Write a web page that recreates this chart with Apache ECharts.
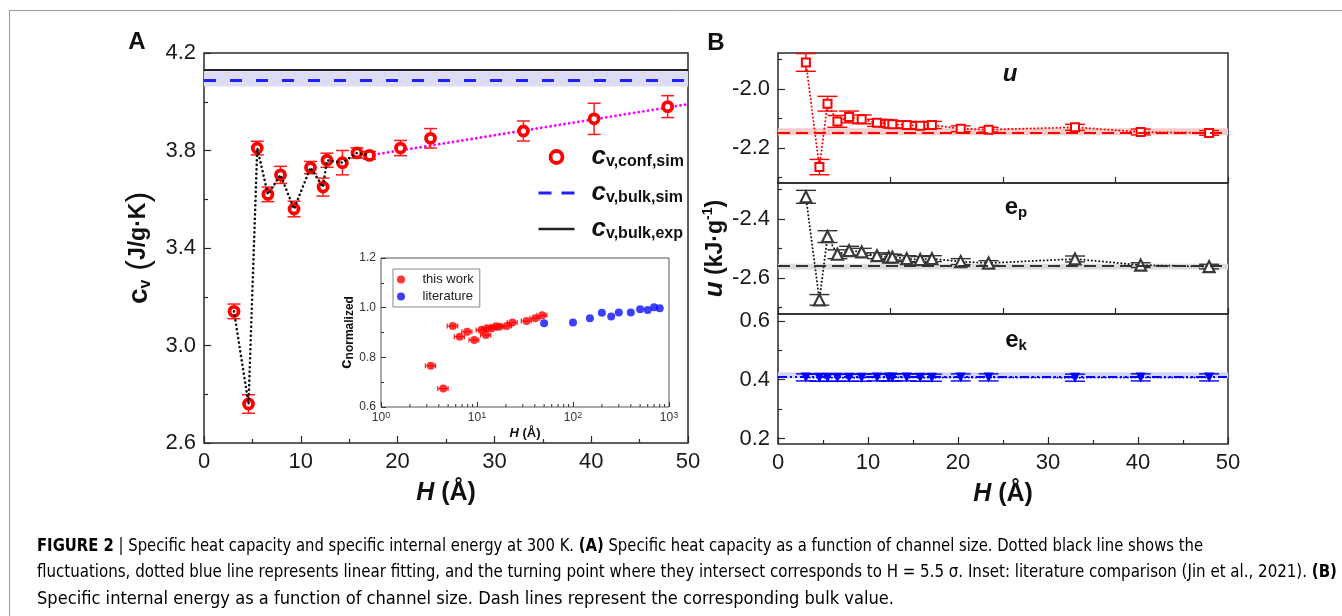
<!DOCTYPE html>
<html><head><meta charset="utf-8">
<script src="https://cdn.jsdelivr.net/npm/echarts@6/dist/echarts.min.js"></script>
<style>html,body{margin:0;padding:0;background:#fff}#c{width:1342px;height:616px}</style>
</head><body><div id="c"></div>
<script>
// ---------------- data ----------------
const H = [3.1, 4.6, 5.5, 6.6, 7.9, 9.3, 11.0, 12.3, 12.7, 14.3, 15.8, 17.1, 20.3, 23.4, 33.0, 40.3, 47.9];
const cvConf = [3.14, 2.76, 3.81, 3.62, 3.70, 3.56, 3.73, 3.65, 3.76, 3.75, 3.79, 3.78, 3.81, 3.85, 3.88, 3.93, 3.98];
const cvErr = [0.03, 0.038, 0.028, 0.03, 0.035, 0.032, 0.025, 0.037, 0.029, 0.05, 0.021, 0.016, 0.031, 0.04, 0.041, 0.064, 0.045];
const flucCount = 12;               // points joined by the dotted black line
const fitH = [17.1, 50];
const fitCv = [3.78, 3.99];
const cvBulkSim = 4.095;
const cvBulkSimBand = [4.063, 4.125];
const cvBulkExp = 4.13;

const inH = [3.3, 4.45, 5.6, 6.6, 7.9, 9.35, 11.1, 12.4, 12.7, 14.3, 15.8, 17.1, 20.5, 23.4, 32.8, 40.4, 47.8];
const inC = [0.766, 0.674, 0.926, 0.883, 0.903, 0.870, 0.910, 0.890, 0.917, 0.917, 0.925, 0.923, 0.926, 0.940, 0.946, 0.957, 0.969];
const inErr = [0.4, 0.55, 0.7, 0.8, 0.95, 1.1, 1.3, 1.5, 1.5, 1.7, 1.9, 2.0, 2.4, 2.8, 3.9, 4.8, 5.7];
const litH = [50, 100, 150, 200, 250, 300, 400, 500, 600, 700, 800];
const litC = [0.937, 0.940, 0.957, 0.980, 0.964, 0.981, 0.981, 0.994, 0.991, 1.002, 0.998];

const u = [-1.91, -2.265, -2.05, -2.11, -2.095, -2.103, -2.115, -2.118, -2.12, -2.122, -2.125, -2.122, -2.135, -2.138, -2.13, -2.146, -2.149];
const uErr = [0.03, 0.026, 0.025, 0.02, 0.02, 0.015, 0.012, 0.012, 0.012, 0.012, 0.012, 0.012, 0.01, 0.008, 0.01, 0.01, 0.008];
const uBulk = -2.145, uBand = [-2.157, -2.133];
const ep = [-2.325, -2.675, -2.46, -2.52, -2.508, -2.512, -2.525, -2.53, -2.53, -2.535, -2.538, -2.535, -2.545, -2.55, -2.536, -2.557, -2.562];
const epErr = [0.022, 0.018, 0.02, 0.015, 0.015, 0.012, 0.01, 0.01, 0.01, 0.01, 0.01, 0.01, 0.01, 0.008, 0.01, 0.008, 0.008];
const epBulk = -2.562, epBand = [-2.572, -2.552];
const ek = [0.408, 0.407, 0.407, 0.407, 0.407, 0.407, 0.408, 0.408, 0.408, 0.408, 0.407, 0.407, 0.408, 0.408, 0.407, 0.408, 0.408];
const ekErr = [0.012, 0.012, 0.012, 0.012, 0.012, 0.012, 0.012, 0.012, 0.012, 0.012, 0.012, 0.012, 0.012, 0.012, 0.012, 0.012, 0.012];
const ekBulk = 0.415, ekBand = [0.405, 0.425];

// ticks / labels
const aYMajor = [2.6, 3.0, 3.4, 3.8, 4.2], aYMinor = [2.8, 3.2, 3.6, 4.0];
const uMajor = [-2.2, -2.0], uMinor = [-2.3, -2.1, -1.9];
const epMajor = [-2.6, -2.4], epMinor = [-2.7, -2.5, -2.3];
const ekMajor = [0.2, 0.4, 0.6], ekMinor = [0.3, 0.5];
const inMinorX = [2,3,4,5,6,7,8,9,20,30,40,50,60,70,80,90,200,300,400,500,600,700,800,900];

const CAPTION = [
  [['b','FIGURE 2'],['bar',' | '],['n','Specific heat capacity and specific internal energy at 300 K. '],['b','(A)'],['n',' Specific heat capacity as a function of channel size. Dotted black line shows the']],
  [['n','fluctuations, dotted blue line represents linear fitting, and the turning point where they intersect corresponds to H = 5.5 σ. Inset: literature comparison '],['g','(Jin et al., 2021)'],['n','. '],['b','(B)']],
  [['n','Specific internal energy as a function of channel size. Dash lines represent the corresponding bulk value.']]
];

// ---------------- helpers ----------------
const FF = "'Liberation Sans', Arial, Helvetica, sans-serif";
const CF = "'Liberation Sans Narrow', 'Arial Narrow', 'DejaVu Sans Condensed', 'Liberation Sans', sans-serif";
const AX = '#2a2a2a';
const TXT = '#111';

function vErr(cap, color, lw) {
  return function (params, api) {
    const x = api.value(0), y = api.value(1), e = api.value(2);
    const a = api.coord([x, y - e]), b = api.coord([x, y + e]);
    const st = {stroke: color, lineWidth: lw, fill: null};
    return {type: 'group', children: [
      {type: 'line', shape: {x1: a[0], y1: a[1], x2: b[0], y2: b[1]}, style: st},
      {type: 'line', shape: {x1: a[0] - cap, y1: a[1], x2: a[0] + cap, y2: a[1]}, style: st},
      {type: 'line', shape: {x1: b[0] - cap, y1: b[1], x2: b[0] + cap, y2: b[1]}, style: st}
    ]};
  };
}
function hErr(cap, color, lw) {
  return function (params, api) {
    const x = api.value(0), y = api.value(1), e = api.value(2);
    const a = api.coord([x - e, y]), b = api.coord([x + e, y]);
    const st = {stroke: color, lineWidth: lw, fill: null};
    return {type: 'group', children: [
      {type: 'line', shape: {x1: a[0], y1: a[1], x2: b[0], y2: b[1]}, style: st},
      {type: 'line', shape: {x1: a[0], y1: a[1] - cap, x2: a[0], y2: a[1] + cap}, style: st},
      {type: 'line', shape: {x1: b[0], y1: b[1] - cap, x2: b[0], y2: b[1] + cap}, style: st}
    ]};
  };
}
const zip3 = (xs, ys, es) => xs.map((x, i) => [x, ys[i], es[i]]);
const zip2 = (xs, ys) => xs.map((x, i) => [x, ys[i]]);
const f1 = v => Number(v).toFixed(1);

const labelStyle = {fontSize: 22, color: '#1a1a1a', fontFamily: FF, margin: 8};
const gridBox = {show: true, borderColor: AX, borderWidth: 1.5, backgroundColor: 'transparent'};

function ovlX(gi, min, max) {
  return {gridIndex: gi, type: 'value', min, max, show: true, axisLine: {show: false}, axisTick: {show: false}, axisLabel: {show: false}, splitLine: {show: false}};
}
function ovlY(gi, min, max, vals) {
  return {gridIndex: gi, type: 'value', min, max, axisLine: {show: false}, axisLabel: {show: false}, splitLine: {show: false},
    axisTick: {show: true, inside: true, length: 4, customValues: vals, lineStyle: {color: AX, width: 1.2}}};
}
function majY(gi, min, max, vals, extra) {
  return Object.assign({gridIndex: gi, type: 'value', min, max, axisLine: {show: false}, splitLine: {show: false},
    axisTick: {show: true, inside: true, length: 7, customValues: vals, lineStyle: {color: AX, width: 1.2}},
    axisLabel: Object.assign({customValues: vals, formatter: f1}, labelStyle)}, extra || {});
}

const uRange = [-2.319, -1.878], epRange = [-2.723, -2.278], ekRange = [0.182, 0.623];

const grids = [
  Object.assign({left: 204, top: 53, width: 484, height: 390}, gridBox),          // 0 A
  {left: 204, top: 53, width: 484, height: 390, show: false},                     // 1 A overlay
  {left: 381, top: 258, width: 288, height: 149, show: true, backgroundColor: '#fff', borderColor: '#555', borderWidth: 1}, // 2 inset
  Object.assign({left: 778, top: 53, width: 450, height: 130}, gridBox),          // 3 u
  {left: 778, top: 53, width: 450, height: 130, show: false},                     // 4
  Object.assign({left: 778, top: 183, width: 450, height: 131}, gridBox),         // 5 ep
  {left: 778, top: 183, width: 450, height: 131, show: false},                    // 6
  Object.assign({left: 778, top: 314, width: 450, height: 130}, gridBox),         // 7 ek
  {left: 778, top: 314, width: 450, height: 130, show: false}                     // 8
];

const xName = {
  name: '{i|H}{b| (Å)}', nameLocation: 'middle', nameGap: 38,
  nameTextStyle: {color: TXT, rich: {i: {fontSize: 25, fontWeight: 'bold', fontStyle: 'italic', fontFamily: FF, color: TXT},
    b: {fontSize: 25, fontWeight: 'bold', fontFamily: FF, color: TXT}}}
};

const xAxes = [
  Object.assign({gridIndex: 0, type: 'value', min: 0, max: 50, interval: 10, axisLine: {show: false, onZero: false}, splitLine: {show: false},
    axisTick: {inside: true, length: 7, lineStyle: {color: AX, width: 1.2}},
    minorTick: {show: true, splitNumber: 2, length: 4, lineStyle: {color: AX, width: 1.2}},
    axisLabel: Object.assign({}, labelStyle)}, xName),
  ovlX(1, 0, 50),
  {gridIndex: 2, type: 'log', logBase: 10, min: 1, max: 1000, axisLine: {show: false, onZero: false}, splitLine: {show: false},
    axisTick: {inside: true, length: 5, lineStyle: {color: '#333'}},
    axisLabel: {margin: 4, formatter: v => '{b|10}{s|' + Math.round(Math.log10(v)) + '}',
      rich: {b: {fontSize: 12, color: '#333', fontFamily: FF, lineHeight: 14}, s: {fontSize: 9, color: '#333', fontFamily: FF, lineHeight: 9, verticalAlign: 'top'}}},
    name: '{i|H}{b| (Å)}', nameLocation: 'middle', nameGap: 20,
    nameTextStyle: {color: TXT, rich: {i: {fontSize: 13, fontWeight: 'bold', fontStyle: 'italic', fontFamily: FF, color: TXT},
      b: {fontSize: 13, fontWeight: 'bold', fontFamily: FF, color: TXT}}}},
  {gridIndex: 3, type: 'value', min: 0, max: 50, interval: 12.5, axisLine: {show: false, onZero: false}, splitLine: {show: false},
    axisTick: {inside: true, length: 6, lineStyle: {color: AX, width: 1.2}}, axisLabel: {show: false}},
  ovlX(4, 0, 50),
  {gridIndex: 5, type: 'value', min: 0, max: 50, interval: 12.5, axisLine: {show: false, onZero: false}, splitLine: {show: false},
    axisTick: {inside: true, length: 6, lineStyle: {color: AX, width: 1.2}}, axisLabel: {show: false}},
  ovlX(6, 0, 50),
  Object.assign({gridIndex: 7, type: 'value', min: 0, max: 50, interval: 10, axisLine: {show: false, onZero: false}, splitLine: {show: false},
    axisTick: {inside: true, length: 7, lineStyle: {color: AX, width: 1.2}},
    minorTick: {show: true, splitNumber: 2, length: 4, lineStyle: {color: AX, width: 1.2}},
    axisLabel: Object.assign({}, labelStyle)}, xName),
  ovlX(8, 0, 50)
];

const yAxes = [
  majY(0, 2.6, 4.2, aYMajor, {
    name: '{c|c}{v|v}{p| (}{t|J/g·K}{p|)}', nameLocation: 'middle', nameGap: 50, nameRotate: 90,
    nameTextStyle: {color: TXT, rich: {
      c: {fontSize: 28, fontWeight: 'bold', fontFamily: FF, lineHeight: 30, color: TXT},
      v: {fontSize: 16, fontWeight: 'bold', fontFamily: FF, lineHeight: 16, verticalAlign: 'bottom', color: TXT},
      p: {fontSize: 32, fontFamily: FF, lineHeight: 30, color: TXT},
      t: {fontSize: 23, fontWeight: 'bold', fontFamily: FF, lineHeight: 30, color: TXT}}}
  }),
  ovlY(1, 2.6, 4.2, aYMinor),
  {gridIndex: 2, type: 'value', min: 0.6, max: 1.2, interval: 0.2, axisLine: {show: false}, splitLine: {show: false},
    axisTick: {inside: true, length: 5, lineStyle: {color: '#333'}},
    minorTick: {show: true, splitNumber: 2, length: 3, lineStyle: {color: '#333'}},
    axisLabel: {fontSize: 12, color: '#333', fontFamily: FF, margin: 5, formatter: f1},
    name: '{c|c}{s|normalized}', nameLocation: 'middle', nameGap: 24, nameRotate: 90,
    nameTextStyle: {color: TXT, rich: {c: {fontSize: 17, fontWeight: 'bold', fontFamily: FF, lineHeight: 18, color: TXT},
      s: {fontSize: 12, fontWeight: 'bold', fontFamily: FF, lineHeight: 12, verticalAlign: 'bottom', color: TXT}}}},
  majY(3, uRange[0], uRange[1], uMajor),
  ovlY(4, uRange[0], uRange[1], uMinor),
  majY(5, epRange[0], epRange[1], epMajor, {
    name: '{u|u}{t| (kJ·g}{s|-1}{t|)}', nameLocation: 'middle', nameGap: 48, nameRotate: 90,
    nameTextStyle: {color: TXT, rich: {
      u: {fontSize: 26, fontWeight: 'bold', fontStyle: 'italic', fontFamily: FF, lineHeight: 28, color: TXT},
      t: {fontSize: 23, fontWeight: 'bold', fontFamily: FF, lineHeight: 28, color: TXT},
      s: {fontSize: 14, fontWeight: 'bold', fontFamily: FF, lineHeight: 14, verticalAlign: 'top', color: TXT}}}
  }),
  ovlY(6, epRange[0], epRange[1], epMinor),
  majY(7, ekRange[0], ekRange[1], ekMajor),
  ovlY(8, ekRange[0], ekRange[1], ekMinor)
];

const dots = (color, w, gap) => ({color, width: w, type: [0.1, gap], cap: 'round'});

const series = [
  // ---- Panel A ----
  {name: 'cv,bulk,sim', type: 'line', xAxisIndex: 0, yAxisIndex: 0, data: [], symbol: 'none', z: 1,
    itemStyle: {color: '#1f1fff'}, lineStyle: {color: '#1f1fff', width: 3, type: [13, 10]},
    markArea: {silent: true, itemStyle: {color: '#dcdcf6'}, data: [[{yAxis: cvBulkSimBand[0]}, {yAxis: cvBulkSimBand[1]}]]},
    markLine: {silent: true, symbol: 'none', label: {show: false}, animation: false,
      lineStyle: {color: '#1f1fff', width: 3, type: [12, 14]}, data: [{yAxis: cvBulkSim}]}},
  {name: 'cv,bulk,exp', type: 'line', xAxisIndex: 0, yAxisIndex: 0, data: [], symbol: 'none', z: 2,
    itemStyle: {color: '#222'}, lineStyle: {color: '#222', width: 2.5},
    markLine: {silent: true, symbol: 'none', label: {show: false}, animation: false,
      lineStyle: {color: '#222', width: 2.2, type: 'solid'}, data: [{yAxis: cvBulkExp}]}},
  {name: 'fit', type: 'line', xAxisIndex: 0, yAxisIndex: 0, data: zip2(fitH, fitCv), symbol: 'none', z: 3,
    lineStyle: dots('#ff00ff', 2.8, 4.6)},
  {name: 'errA', type: 'custom', xAxisIndex: 0, yAxisIndex: 0, data: zip3(H, cvConf, cvErr), encode: {x: 0, y: 1}, z: 4,
    renderItem: vErr(6.5, '#ff1a1a', 1.5)},
  {name: 'cv,conf,sim', type: 'scatter', xAxisIndex: 0, yAxisIndex: 0, data: zip2(H, cvConf), z: 5,
    symbol: 'circle', symbolSize: 9, itemStyle: {color: '#fff', borderColor: '#ff0000', borderWidth: 3.8, opacity: 1}},
  {name: 'fluc', type: 'line', xAxisIndex: 0, yAxisIndex: 0, data: zip2(H.slice(0, flucCount), cvConf.slice(0, flucCount)), symbol: 'none', z: 6,
    lineStyle: dots('#111', 2.6, 4.4)},
  // ---- Inset ----
  {name: 'minorLog', type: 'custom', xAxisIndex: 2, yAxisIndex: 2, data: inMinorX.map(v => [v, 0.6]), encode: {x: 0, y: 1}, z: 3, silent: true,
    renderItem: function (params, api) {
      const p = api.coord([api.value(0), api.value(1)]);
      return {type: 'line', shape: {x1: p[0], y1: p[1], x2: p[0], y2: p[1] - 3}, style: {stroke: '#333', lineWidth: 1}};
    }},
  {name: 'errIn', type: 'custom', xAxisIndex: 2, yAxisIndex: 2, data: zip3(inH, inC, inErr), encode: {x: 0, y: 1}, z: 4,
    renderItem: hErr(2.5, '#ff1a1a', 1.2)},
  {name: 'this work', type: 'scatter', xAxisIndex: 2, yAxisIndex: 2, data: zip2(inH, inC), symbol: 'circle', symbolSize: 8, z: 5,
    itemStyle: {color: '#ff0000'}},
  {name: 'literature', type: 'scatter', xAxisIndex: 2, yAxisIndex: 2, data: zip2(litH, litC), symbol: 'circle', symbolSize: 8, z: 5,
    itemStyle: {color: '#0a10ff'}},
  // ---- Panel B: u ----
  {name: 'uBulk', type: 'line', xAxisIndex: 3, yAxisIndex: 3, data: [], symbol: 'none', z: 1,
    markArea: {silent: true, itemStyle: {color: '#f9cccc'}, data: [[{yAxis: uBand[0]}, {yAxis: uBand[1]}]]},
    markLine: {silent: true, symbol: 'none', label: {show: false}, lineStyle: {color: '#ff0000', width: 2.2, type: [12, 6]}, data: [{yAxis: uBulk}]}},
  {name: 'uErr', type: 'custom', xAxisIndex: 3, yAxisIndex: 3, data: zip3(H, u, uErr), encode: {x: 0, y: 1}, z: 3,
    renderItem: vErr(10, '#ff0000', 1.4)},
  {name: 'u', type: 'line', xAxisIndex: 3, yAxisIndex: 3, data: zip2(H, u), z: 4,
    symbol: 'rect', symbolSize: 8, showSymbol: true, itemStyle: {color: '#fff', borderColor: '#ff0000', borderWidth: 2},
    lineStyle: dots('#ff0000', 2, 3.6)},
  // ---- Panel B: ep ----
  {name: 'epBulk', type: 'line', xAxisIndex: 5, yAxisIndex: 5, data: [], symbol: 'none', z: 1,
    markArea: {silent: true, itemStyle: {color: '#dcdcdc'}, data: [[{yAxis: epBand[0]}, {yAxis: epBand[1]}]]},
    markLine: {silent: true, symbol: 'none', label: {show: false}, lineStyle: {color: '#333', width: 2.2, type: [12, 6]}, data: [{yAxis: epBulk}]}},
  {name: 'epErr', type: 'custom', xAxisIndex: 5, yAxisIndex: 5, data: zip3(H, ep, epErr), encode: {x: 0, y: 1}, z: 3,
    renderItem: vErr(10, '#333', 1.4)},
  {name: 'ep', type: 'line', xAxisIndex: 5, yAxisIndex: 5, data: zip2(H, ep), z: 4,
    symbol: 'triangle', symbolSize: 11, showSymbol: true, itemStyle: {color: '#fff', borderColor: '#3a3a3a', borderWidth: 2.2},
    lineStyle: dots('#1a1a1a', 2, 3.6)},
  // ---- Panel B: ek ----
  {name: 'ekBulk', type: 'line', xAxisIndex: 7, yAxisIndex: 7, data: [], symbol: 'none', z: 1,
    markArea: {silent: true, itemStyle: {color: '#d4d4ff'}, data: [[{yAxis: ekBand[0]}, {yAxis: ekBand[1]}]]},
    markLine: {silent: true, symbol: 'none', label: {show: false}, lineStyle: {color: '#0000ff', width: 2.2, type: [9, 3, 2, 3, 2, 3]}, data: [{yAxis: ekBulk}]}},
  {name: 'ekErr', type: 'custom', xAxisIndex: 7, yAxisIndex: 7, data: zip3(H, ek, ekErr), encode: {x: 0, y: 1}, z: 3,
    renderItem: vErr(10, '#0000ff', 1.4)},
  {name: 'ek', type: 'line', xAxisIndex: 7, yAxisIndex: 7, data: zip2(H, ek), z: 4,
    symbol: 'triangle', symbolRotate: 180, symbolSize: 10, showSymbol: true, itemStyle: {color: '#0000ff'},
    lineStyle: dots('#0000ff', 2, 3.6)}
];

// ---------- caption (text fitted to the reference line widths) ----------
const capBase = {fontSize: 17, fontFamily: CF, color: '#333'};
const capRich = {
  n: Object.assign({}, capBase),
  b: Object.assign({}, capBase, {fontWeight: 'bold'}),
  g: Object.assign({}, capBase, {color: '#9a9a9a'}),
  bar: Object.assign({}, capBase, {color: '#777'})
};
const capTargets = [1166, 1300, 857];
const capY = [547, 573, 600];
const mctx = document.createElement('canvas').getContext('2d');
function segWidth(segs) {
  let w = 0;
  segs.forEach(([k, t]) => {
    const st = capRich[k];
    mctx.font = (st.fontWeight || 'normal') + ' ' + st.fontSize + 'px ' + st.fontFamily;
    w += mctx.measureText(t).width;
  });
  return w;
}
const captionGraphics = CAPTION.map((segs, i) => {
  const w = segWidth(segs);
  return {type: 'text', x: 37, y: capY[i], scaleX: capTargets[i] / w, silent: true,
    style: {text: segs.map(([k, t]) => '{' + k + '|' + t + '}').join(''), rich: capRich, verticalAlign: 'middle', align: 'left'}};
});

const panelLbl = (txt, x, y) => ({type: 'text', x, y, silent: true,
  style: {text: txt, fontSize: 24, fontWeight: 'bold', fontFamily: FF, fill: TXT, align: 'center', verticalAlign: 'middle'}});
const subLbl = (main, sub, italic, x, y) => ({type: 'text', x, y, silent: true,
  style: {text: '{m|' + main + '}' + (sub ? '{s|' + sub + '}' : ''), align: 'center', verticalAlign: 'middle',
    rich: {m: {fontSize: 24, fontWeight: 'bold', fontStyle: italic ? 'italic' : 'normal', fontFamily: FF, lineHeight: 26, fill: TXT},
      s: {fontSize: 15, fontWeight: 'bold', fontFamily: FF, lineHeight: 15, verticalAlign: 'bottom', fill: TXT}}}});

const hidden = {color: 'rgba(0,0,0,0)', borderColor: 'rgba(0,0,0,0)', borderWidth: 0, opacity: 0};

const option = {
  animation: false,
  backgroundColor: '#fff',
  grid: grids,
  xAxis: xAxes,
  yAxis: yAxes,
  legend: [
    {data: [
      {name: 'cv,conf,sim', itemStyle: {color: '#fff', borderColor: '#ff0000', borderWidth: 3.8}},
      {name: 'cv,bulk,sim', itemStyle: hidden, lineStyle: {color: '#1f1fff', width: 3, type: [13, 10], opacity: 1}},
      {name: 'cv,bulk,exp', itemStyle: hidden, lineStyle: {color: '#222', width: 2.5, type: 'solid', opacity: 1}}],
     selectedMode: false, orient: 'vertical', left: 537, top: 144, padding: 0, itemWidth: 36, itemHeight: 12, itemGap: 10,
     formatter: n => '{c|c}{s|' + n.slice(1) + '}',
     textStyle: {rich: {
       c: {fontSize: 26, fontStyle: 'italic', fontWeight: 'bold', fontFamily: FF, lineHeight: 26, padding: [0, 0, 0, 12], color: TXT},
       s: {fontSize: 16, fontWeight: 'bold', fontFamily: FF, lineHeight: 16, verticalAlign: 'bottom', color: TXT}}}},
    {data: ['this work', 'literature'], selectedMode: false, orient: 'vertical', left: 393, top: 269,
     padding: [3, 6, 3, 4], itemWidth: 25, itemHeight: 8, itemGap: 2, icon: 'circle',
     borderColor: '#888', borderWidth: 1, backgroundColor: '#fff',
     textStyle: {fontSize: 13, color: '#222', fontFamily: FF, lineHeight: 15, padding: [0, 0, 0, 4]}}
  ],
  graphic: [
    {type: 'line', silent: true, shape: {x1: 9, y1: 10.5, x2: 1342, y2: 10.5}, style: {stroke: '#9a9a9a', lineWidth: 1}},
    {type: 'line', silent: true, shape: {x1: 9.5, y1: 10, x2: 9.5, y2: 616}, style: {stroke: '#9a9a9a', lineWidth: 1}},
    panelLbl('A', 137, 42),
    panelLbl('B', 716, 43),
    subLbl('u', null, true, 1010, 74),
    subLbl('e', 'p', false, 1016, 207),
    subLbl('e', 'k', false, 1016, 340)
  ].concat(captionGraphics),
  series: series
};

const chart = echarts.init(document.getElementById('c'), null, {renderer: 'canvas', width: 1342, height: 616});
chart.setOption(option);
</script>
</body></html>
